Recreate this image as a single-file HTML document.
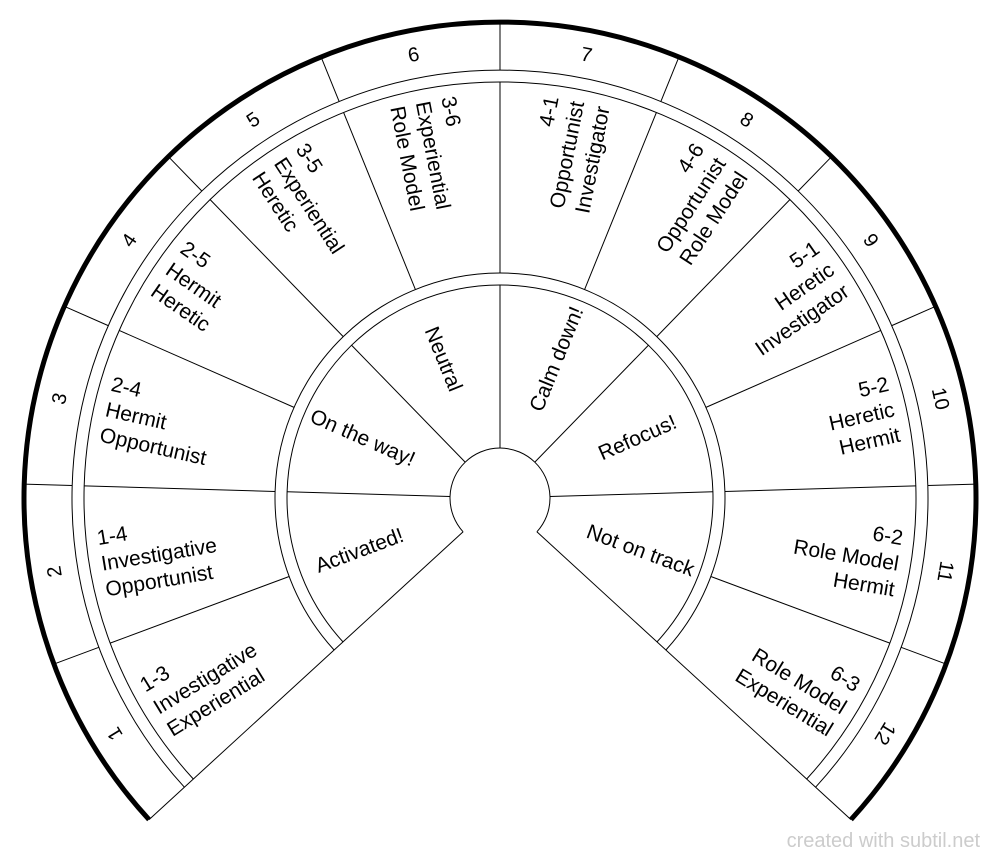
<!DOCTYPE html>
<html><head><meta charset="utf-8"><style>
html,body{margin:0;padding:0;background:#fff}
svg{display:block}
text{font-family:"Liberation Sans",Arial,sans-serif;font-size:21px;fill:#000}
.n{font-size:20px;text-anchor:middle}
.c{text-anchor:middle}
.e{text-anchor:end}
</style></head><body>
<svg width="1000" height="861" viewBox="0 0 1000 861" xmlns="http://www.w3.org/2000/svg">
<g fill="none" stroke="#000" stroke-width="1">
<path d="M184.4 787.2 A428 428 0 1 1 815.6 787.2"/>
<path d="M193.3 779.0 A416 416 0 1 1 806.7 779.0"/>
<path d="M334.1 650.0 A225 225 0 1 1 665.9 650.0"/>
<path d="M343.0 641.9 A213 213 0 1 1 657.0 641.9"/>
<path d="M463.1 531.8 A50 50 0 1 1 536.9 531.8"/>
<line x1="550" y1="498" x2="976" y2="498" transform="rotate(-222.5 500 498)"/>
<line x1="550" y1="498" x2="976" y2="498" transform="rotate(42.5 500 498)"/>
<g>
<line x1="928" y1="498" x2="976" y2="498" transform="rotate(-200.42 500 498)"/>
<line x1="928" y1="498" x2="976" y2="498" transform="rotate(-178.33 500 498)"/>
<line x1="928" y1="498" x2="976" y2="498" transform="rotate(-156.25 500 498)"/>
<line x1="928" y1="498" x2="976" y2="498" transform="rotate(-134.17 500 498)"/>
<line x1="928" y1="498" x2="976" y2="498" transform="rotate(-112.08 500 498)"/>
<line x1="928" y1="498" x2="976" y2="498" transform="rotate(-90 500 498)"/>
<line x1="928" y1="498" x2="976" y2="498" transform="rotate(-67.92 500 498)"/>
<line x1="928" y1="498" x2="976" y2="498" transform="rotate(-45.83 500 498)"/>
<line x1="928" y1="498" x2="976" y2="498" transform="rotate(-23.75 500 498)"/>
<line x1="928" y1="498" x2="976" y2="498" transform="rotate(-1.67 500 498)"/>
<line x1="928" y1="498" x2="976" y2="498" transform="rotate(20.42 500 498)"/>
</g>
<g>
<line x1="725" y1="498" x2="916" y2="498" transform="rotate(-200.42 500 498)"/>
<line x1="725" y1="498" x2="916" y2="498" transform="rotate(-178.33 500 498)"/>
<line x1="725" y1="498" x2="916" y2="498" transform="rotate(-156.25 500 498)"/>
<line x1="725" y1="498" x2="916" y2="498" transform="rotate(-134.17 500 498)"/>
<line x1="725" y1="498" x2="916" y2="498" transform="rotate(-112.08 500 498)"/>
<line x1="725" y1="498" x2="916" y2="498" transform="rotate(-90 500 498)"/>
<line x1="725" y1="498" x2="916" y2="498" transform="rotate(-67.92 500 498)"/>
<line x1="725" y1="498" x2="916" y2="498" transform="rotate(-45.83 500 498)"/>
<line x1="725" y1="498" x2="916" y2="498" transform="rotate(-23.75 500 498)"/>
<line x1="725" y1="498" x2="916" y2="498" transform="rotate(-1.67 500 498)"/>
<line x1="725" y1="498" x2="916" y2="498" transform="rotate(20.42 500 498)"/>
</g>
<g>
<line x1="550" y1="498" x2="713" y2="498" transform="rotate(-178.33 500 498)"/>
<line x1="550" y1="498" x2="713" y2="498" transform="rotate(-134.17 500 498)"/>
<line x1="550" y1="498" x2="713" y2="498" transform="rotate(-90 500 498)"/>
<line x1="550" y1="498" x2="713" y2="498" transform="rotate(-45.83 500 498)"/>
<line x1="550" y1="498" x2="713" y2="498" transform="rotate(-1.67 500 498)"/>
</g>
</g>
<path d="M149.0 819.6 A476 476 0 1 1 851.0 819.6" fill="none" stroke="#000" stroke-width="5"/>

<g transform="translate(500 498)">
<text class="n" x="0" y="-445" transform="rotate(-121.46)">1</text>
<text class="n" x="0" y="-445" transform="rotate(-99.38)">2</text>
<text class="n" x="0" y="-445" transform="rotate(-77.29)">3</text>
<text class="n" x="0" y="-445" transform="rotate(-55.21)">4</text>
<text class="n" x="0" y="-445" transform="rotate(-33.13)">5</text>
<text class="n" x="0" y="-445" transform="rotate(-11.04)">6</text>
<text class="n" x="0" y="-445" transform="rotate(11.04)">7</text>
<text class="n" x="0" y="-445" transform="rotate(33.12)">8</text>
<text class="n" x="0" y="-445" transform="rotate(55.21)">9</text>
<text class="n" x="0" y="-445" transform="rotate(77.29)">10</text>
<text class="n" x="0" y="-445" transform="rotate(99.38)">11</text>
<text class="n" x="0" y="-445" transform="rotate(121.46)">12</text>

<g transform="rotate(-31.46)"><text x="-404" y="-19">1-3</text><text x="-404" y="7">Investigative</text><text x="-404" y="33">Experiential</text></g>
<g transform="rotate(-9.38)"><text x="-404" y="-19">1-4</text><text x="-404" y="7">Investigative</text><text x="-404" y="33">Opportunist</text></g>
<g transform="rotate(12.71)"><text x="-404" y="-19">2-4</text><text x="-404" y="7">Hermit</text><text x="-404" y="33">Opportunist</text></g>
<g transform="rotate(34.79)"><text x="-404" y="-19">2-5</text><text x="-404" y="7">Hermit</text><text x="-404" y="33">Heretic</text></g>
<g transform="rotate(56.87)"><text x="-404" y="-19">3-5</text><text x="-404" y="7">Experiential</text><text x="-404" y="33">Heretic</text></g>
<g transform="rotate(78.96)"><text x="-404" y="-19">3-6</text><text x="-404" y="7">Experiential</text><text x="-404" y="33">Role Model</text></g>
<g transform="rotate(-78.96)"><text class="e" x="404" y="-19">4-1</text><text class="e" x="404" y="7">Opportunist</text><text class="e" x="404" y="33">Investigator</text></g>
<g transform="rotate(-56.88)"><text class="e" x="404" y="-19">4-6</text><text class="e" x="404" y="7">Opportunist</text><text class="e" x="404" y="33">Role Model</text></g>
<g transform="rotate(-34.79)"><text class="e" x="404" y="-19">5-1</text><text class="e" x="404" y="7">Heretic</text><text class="e" x="404" y="33">Investigator</text></g>
<g transform="rotate(-12.71)"><text class="e" x="404" y="-19">5-2</text><text class="e" x="404" y="7">Heretic</text><text class="e" x="404" y="33">Hermit</text></g>
<g transform="rotate(9.38)"><text class="e" x="404" y="-19">6-2</text><text class="e" x="404" y="7">Role Model</text><text class="e" x="404" y="33">Hermit</text></g>
<g transform="rotate(31.46)"><text class="e" x="404" y="-19">6-3</text><text class="e" x="404" y="7">Role Model</text><text class="e" x="404" y="33">Experiential</text></g>

<text class="c" x="-150" y="7" transform="rotate(-20.42)">Activated!</text>
<text class="c" x="-150" y="7" transform="rotate(23.75)">On the way!</text>
<text class="c" x="-150" y="7" transform="rotate(67.92)">Neutral</text>
<text class="c" x="150" y="7" transform="rotate(-67.92)">Calm down!</text>
<text class="c" x="150" y="7" transform="rotate(-23.75)">Refocus!</text>
<text class="c" x="150" y="7" transform="rotate(20.42)">Not on track</text>
</g>
<text x="980" y="847" style="font-size:20px;fill:#cccccc;text-anchor:end">created with subtil.net</text>
</svg>
</body></html>
